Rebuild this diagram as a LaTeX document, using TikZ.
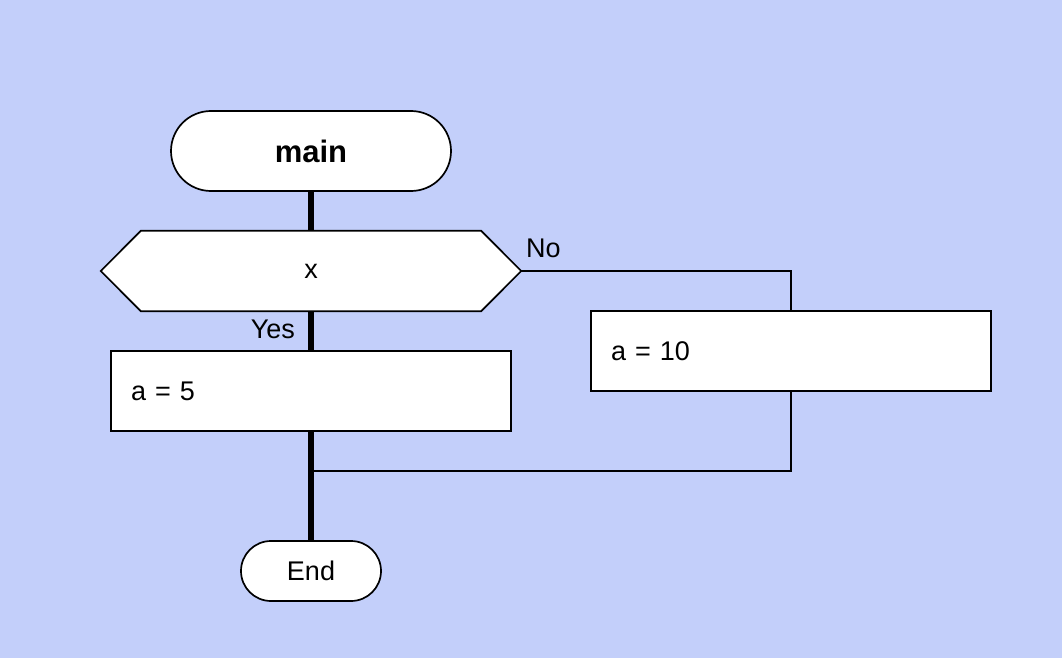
\documentclass[tikz,border=0pt]{standalone}
\usepackage{fontspec}
\setmainfont{Liberation Sans}
\usetikzlibrary{calc,backgrounds}
\definecolor{bg}{RGB}{195,207,250}
\begin{document}
\begin{tikzpicture}[x=1pt,y=-1pt,
  every node/.style={font=\fontsize{27}{32}\selectfont, inner sep=0pt},
  outline/.style={draw=black, line width=1.7pt, fill=white},
  procbox/.style={outline, minimum width=400pt, minimum height=80pt, text width=360pt, inner xsep=20pt, align=left},
  flow/.style={line width=5.5pt},
  branch/.style={line width=1.7pt},
  lbl/.style={font=\fontsize{27}{32}\selectfont}]
\begin{scope}[on background layer]
\fill[bg] (0,0) rectangle (1062,658);
\end{scope}
\useasboundingbox (0,0) rectangle (1062,658);

\node[outline, minimum width=280pt, minimum height=80pt, rounded corners=40pt,
  font=\fontsize{31}{36}\selectfont\bfseries] (main) at (311,151) {main};
\node[minimum width=420pt, minimum height=80pt] (cond) at (311,271) {x};
\begin{scope}[on background layer]
\draw[outline] (cond.west) -- ($(cond.north west)+(40,0)$) -- ($(cond.north east)+(-40,0)$)
  -- (cond.east) -- ($(cond.south east)+(-40,0)$) -- ($(cond.south west)+(40,0)$) -- cycle;
\end{scope}
\node[procbox] (a5) at (311,391) {a = 5};
\node[procbox] (a10) at (791,351) {a = 10};
\node[outline, minimum width=140pt, minimum height=60pt, rounded corners=30pt] (endn) at (311,571) {End};
\coordinate (join) at (311,471);

\draw[flow] (main.south) -- (cond.north);
\draw[flow] (cond.south) -- (a5.north);
\draw[flow] (a5.south) -- (endn.north);
\draw[branch] (cond.east) -| (a10.north);
\draw[branch] (a10.south) |- (join);

\node[lbl, anchor=west] (no) at (526,248) {No};
\node[lbl, anchor=east] (yes) at (295,329) {Yes};
\end{tikzpicture}
\end{document}
